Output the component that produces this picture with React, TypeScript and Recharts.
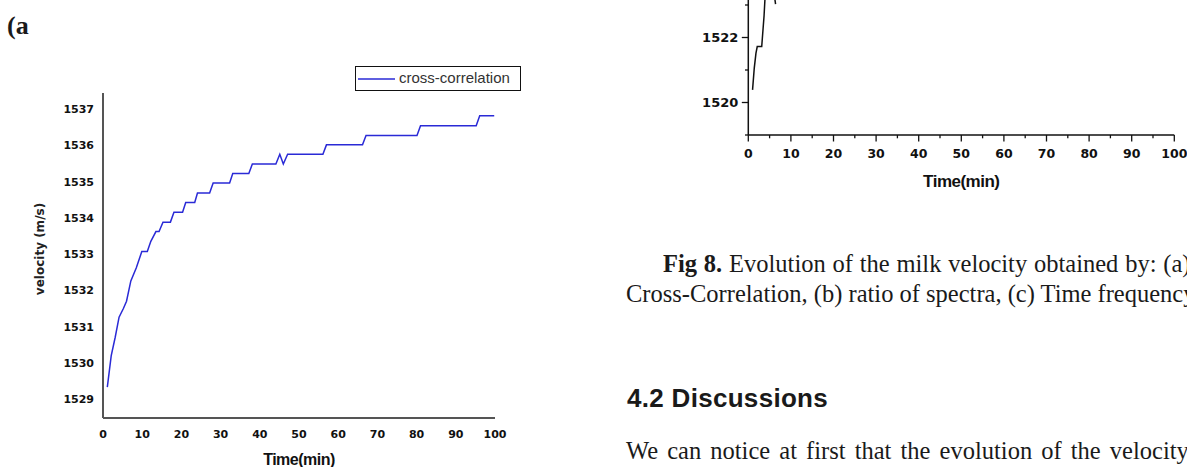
import React from "react";
import { LineChart, Line, XAxis, YAxis, Legend, Label } from "recharts";

// (a) cross-correlation, time in minutes
const ccTime = [
  1.1, 2.1, 3.1, 4.1, 5.2, 6.0, 7.1, 8.5, 9.9, 11.3, 12.2, 13.5, 14.3, 15.3, 17.2,
  18.1, 20.3, 21.1, 23.4, 24.1, 27.2, 28.1, 32.3, 33.1, 37.2, 38.1, 44.1, 45.1,
  46.0, 47.1, 56.1, 57.0, 66.2, 67.1, 80.1, 81.0, 95.2, 96.1, 99.8,
];
const ccVelocity = [
  1529.33, 1530.2, 1530.7, 1531.26, 1531.5, 1531.7, 1532.26, 1532.62, 1533.07,
  1533.07, 1533.35, 1533.62, 1533.62, 1533.88, 1533.88, 1534.15, 1534.15, 1534.42,
  1534.42, 1534.68, 1534.68, 1534.96, 1534.96, 1535.22, 1535.22, 1535.48, 1535.48,
  1535.75, 1535.48, 1535.75, 1535.75, 1536.01, 1536.01, 1536.27, 1536.27, 1536.54,
  1536.54, 1536.81, 1536.81,
];

// (b) ratio of spectra, only the visible start of the curve
const rsTime = [1.0, 1.4, 1.8, 2.1, 3.15, 3.7, 4.0, 6.0, 6.4];
const rsVelocity = [1520.39, 1521.06, 1521.52, 1521.72, 1521.72, 1522.67, 1523.4, 1523.4, 1523.03];

const leftXTicks = [0, 10, 20, 30, 40, 50, 60, 70, 80, 90, 100];
const leftYTicks = [1529, 1530, 1531, 1532, 1533, 1534, 1535, 1536, 1537];
const rightXTicks = Array.from({ length: 21 }, (_, i) => i * 5);
// only the part of the y axis that is on the page
const rightYTicks = [1519, 1520, 1521, 1522, 1523];

const ccData = ccTime.map((t, i) => ({ t, v: ccVelocity[i] }));
const rsData = rsTime.map((t, i) => ({ t, v: rsVelocity[i] }));

const tickFont = { fontFamily: "DejaVu Sans", fontWeight: "bold" as const, fill: "#111" };

const LeftXTick = ({ x, y, payload }: any) => (
  <text x={x} y={y + 20} textAnchor="middle" fontSize={11} {...tickFont}>
    {payload.value}
  </text>
);

const LeftYTick = ({ x, y, payload }: any) => (
  <text x={x - 9} y={y + 4} textAnchor="end" fontSize={11} {...tickFont}>
    {payload.value}
  </text>
);

const RightXTick = ({ x, y, payload }: any) => {
  const major = payload.value % 10 === 0;
  return (
    <g>
      <line x1={x} x2={x} y1={y} y2={y + (major ? 6.5 : 3.3)} stroke="#111" strokeWidth={1.3} />
      {major && (
        <text x={x} y={y + 23} textAnchor="middle" fontSize={12.5} {...tickFont}>
          {payload.value}
        </text>
      )}
    </g>
  );
};

const RightYTick = ({ x, y, payload }: any) => {
  const major = payload.value % 2 === 0;
  return (
    <g>
      <line x1={x - (major ? 6.5 : 3.3)} x2={x} y1={y} y2={y} stroke="#111" strokeWidth={1.3} />
      {major && (
        <text x={x - 10} y={y + 4.7} textAnchor="end" fontSize={13} {...tickFont}>
          {payload.value}
        </text>
      )}
    </g>
  );
};

const CCLegend = () => (
  <div
    style={{
      width: 164,
      height: 23,
      border: "1px solid #111",
      background: "#fff",
      position: "relative",
    }}
  >
    <svg width={40} height={23} style={{ position: "absolute", left: 1, top: 0 }}>
      <line x1={1} x2={38} y1={12} y2={12} stroke="#2a2ad6" strokeWidth={1.5} />
    </svg>
    <span
      style={{
        position: "absolute",
        left: 43,
        top: 2,
        fontFamily: "Liberation Sans",
        fontSize: 15,
        color: "#333",
        lineHeight: "18px",
        whiteSpace: "nowrap",
      }}
    >
      cross-correlation
    </span>
  </div>
);

const serif = "Liberation Serif";

export default function App() {
  return (
    <div
      style={{
        position: "absolute",
        left: 0,
        top: 0,
        width: 1187,
        height: 467,
        overflow: "hidden",
        background: "#fff",
      }}
    >
      {/* (a) cross-correlation */}
      <div style={{ position: "absolute", left: 0, top: 0 }}>
        <LineChart
          width={560}
          height={467}
          data={ccData}
          margin={{ top: 93, right: 65, bottom: 19, left: 43 }}
        >
          <XAxis
            dataKey="t"
            type="number"
            domain={[0, 100]}
            ticks={leftXTicks}
            tickLine={false}
            tickSize={0}
            tickMargin={0}
            axisLine={{ stroke: "#555", strokeWidth: 2 }}
            tick={<LeftXTick />}
            height={30}
          >
            <Label
              content={({ viewBox }: any) => (
                <text
                  x={viewBox.x + viewBox.width / 2}
                  y={465}
                  textAnchor="middle"
                  fontFamily="Liberation Sans"
                  fontWeight="bold"
                  fontSize={16}
                  letterSpacing={-0.5}
                  fill="#111"
                >
                  Time(min)
                </text>
              )}
            />
          </XAxis>
          <YAxis
            type="number"
            domain={[1528.48, 1537.44]}
            ticks={leftYTicks}
            tickLine={false}
            tickSize={0}
            tickMargin={0}
            axisLine={{ stroke: "#555", strokeWidth: 2 }}
            tick={<LeftYTick />}
            width={60}
          >
            <Label
              content={() => (
                <text
                  x={44}
                  y={249}
                  transform="rotate(-90, 44, 249)"
                  textAnchor="middle"
                  fontFamily="DejaVu Sans"
                  fontWeight="bold"
                  fontSize={12}
                  fill="#222"
                >
                  velocity (m/s)
                </text>
              )}
            />
          </YAxis>
          <Legend
            layout="vertical"
            verticalAlign="middle"
            align="center"
            content={<CCLegend />}
            wrapperStyle={{ position: "absolute", left: 355, top: 66, width: 166, height: 25 }}
          />
          <Line
            type="linear"
            dataKey="v"
            name="cross-correlation"
            stroke="#2a2ad6"
            strokeWidth={1.5}
            dot={false}
            isAnimationActive={false}
          />
        </LineChart>
      </div>

      {/* (b) ratio of spectra, only its lower part is on the page */}
      <div style={{ position: "absolute", left: 640, top: -200 }}>
        <LineChart
          width={547}
          height={400}
          data={rsData}
          margin={{ top: 75, right: 12.7, bottom: 35, left: 58.3 }}
        >
          <XAxis
            dataKey="t"
            type="number"
            domain={[0, 100]}
            ticks={rightXTicks}
            interval={0}
            tickLine={false}
            tickSize={0}
            tickMargin={0}
            axisLine={{ stroke: "#111", strokeWidth: 1.5 }}
            tick={<RightXTick />}
            height={30}
          >
            <Label
              content={({ viewBox }: any) => (
                <text
                  x={viewBox.x + viewBox.width / 2}
                  y={viewBox.y + 52}
                  textAnchor="middle"
                  fontFamily="Liberation Sans"
                  fontWeight="bold"
                  fontSize={17}
                  letterSpacing={-0.5}
                  fill="#111"
                >
                  Time(min)
                </text>
              )}
            />
          </XAxis>
          <YAxis
            type="number"
            domain={[1519, 1527]}
            ticks={rightYTicks}
            interval={0}
            tickLine={false}
            tickSize={0}
            tickMargin={0}
            axisLine={{ stroke: "#111", strokeWidth: 1.5 }}
            tick={<RightYTick />}
            width={50}
          />
          <Line
            type="linear"
            dataKey="v"
            stroke="#111"
            strokeWidth={1.5}
            dot={false}
            isAnimationActive={false}
          />
        </LineChart>
      </div>

      {/* page text around the figure */}
      <svg
        width={1187}
        height={467}
        style={{ position: "absolute", left: 0, top: 0, pointerEvents: "none" }}
      >
        <text x={7} y={34} fontFamily={serif} fontWeight="bold" fontSize={26} fill="#1a1a1a">
          (a
        </text>
        <text
          x={663}
          y={272}
          fontFamily={serif}
          fontSize={24.5}
          wordSpacing={0.7}
          fill="#1a1a1a"
        >
          <tspan fontWeight="bold">Fig 8.</tspan> Evolution of the milk velocity obtained by: (a)
        </text>
        <text x={626} y={302} fontFamily={serif} fontSize={24.5} fill="#1a1a1a">
          Cross-Correlation, (b) ratio of spectra, (c) Time frequency
        </text>
        <text
          x={627}
          y={407}
          fontFamily="Liberation Sans"
          fontWeight="bold"
          fontSize={26}
          letterSpacing={0.3}
          fill="#1a1a1a"
        >
          4.2 Discussions
        </text>
        <text
          x={626}
          y={459}
          fontFamily={serif}
          fontSize={24.5}
          wordSpacing={3}
          fill="#1a1a1a"
        >
          We can notice at first that the evolution of the velocity
        </text>
      </svg>
    </div>
  );
}
